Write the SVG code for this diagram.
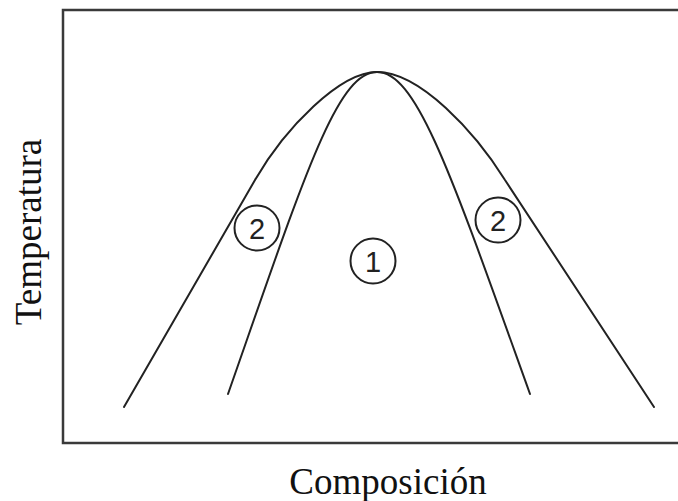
<svg xmlns="http://www.w3.org/2000/svg" width="678" height="501" viewBox="0 0 678 501">
<style>
.frame{fill:none;stroke:#3a3a3a;stroke-width:2.5}
.curve{fill:none;stroke:#222;stroke-width:2;stroke-linecap:round;stroke-linejoin:round}
.ring{fill:none;stroke:#222;stroke-width:2}
.num{font-family:"Liberation Sans",Arial,sans-serif;font-size:29px;fill:#222;text-anchor:middle}
.axis{font-family:"Liberation Serif","Times New Roman",serif;font-size:37px;fill:#111;text-anchor:middle}
</style>
<rect width="678" height="501" fill="#fff"/>
<g id="frame"><rect class="frame" x="63" y="10" width="630" height="433"/></g>
<g id="connectors">
<path class="curve" d="M124,407 L255,180 C285,128 340,72 377,72 C420,72 475,132 505,180 L654,407"/>
<path class="curve" d="M228,394 C305,174 337,72 377,72 C417,72 451,174 530,394"/>
</g>
<g id="region1"><circle class="ring" cx="373" cy="261" r="22.5"/><text class="num" x="373" y="271.5">1</text></g>
<g id="region2left"><circle class="ring" cx="257" cy="228" r="22.5"/><text class="num" x="257" y="238.5">2</text></g>
<g id="region2right"><circle class="ring" cx="498" cy="220" r="22.5"/><text class="num" x="498" y="230.5">2</text></g>
<g id="ylabel"><text class="axis" transform="translate(41,232) rotate(-90)">Temperatura</text></g>
<g id="xlabel"><text class="axis" x="388" y="494">Composición</text></g>
</svg>
